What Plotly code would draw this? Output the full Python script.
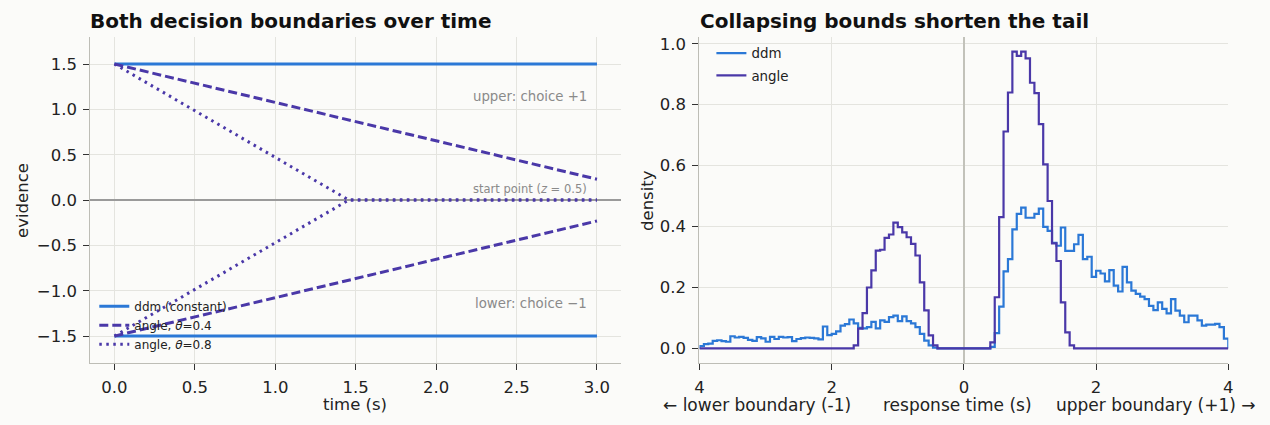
import numpy as np
import plotly.graph_objects as go

BLUE = "#2b78d6"
PURPLE = "#4a38a8"
GRID = "#e4e4df"
BG = "#fbfbf9"
FONT = "DejaVu Sans"

# left panel: boundary knots
t_const = [0.0, 3.0]
ddm_upper = [1.5, 1.5]
ddm_lower = [-1.5, -1.5]

t_04 = [0.0, 3.0]
angle04_upper = [1.5, 0.23]
angle04_lower = [-1.5, -0.23]

t_08 = [0.0, 1.457, 3.0]
angle08_upper = [1.5, 0.0, 0.0]
angle08_lower = [-1.5, 0.0, 0.0]

# right panel: signed response time histograms (-4..4, 120 bins)
bin_edges = np.linspace(-4, 4, 121)

ddm_neg = [0.008, 0.014, 0.016, 0.025, 0.027, 0.024, 0.022, 0.040, 0.036, 0.038,
           0.035, 0.028, 0.025, 0.037, 0.033, 0.022, 0.038, 0.031, 0.038, 0.036,
           0.037, 0.024, 0.031, 0.034, 0.036, 0.035, 0.033, 0.030, 0.072, 0.044,
           0.048, 0.056, 0.075, 0.080, 0.095, 0.082, 0.068, 0.066, 0.070, 0.087,
           0.066, 0.092, 0.087, 0.103, 0.108, 0.090, 0.105, 0.090, 0.082, 0.070,
           0.048, 0.026, 0.010, 0.003, 0.0, 0.0, 0.0, 0.0, 0.0, 0.0]
ddm_pos = [0.0, 0.0, 0.0, 0.0, 0.0, 0.0, 0.005, 0.050, 0.137, 0.253,
           0.293, 0.391, 0.442, 0.462, 0.429, 0.429, 0.442, 0.459, 0.399, 0.386,
           0.347, 0.337, 0.397, 0.320, 0.320, 0.342, 0.373, 0.293, 0.301, 0.235,
           0.255, 0.246, 0.220, 0.257, 0.206, 0.187, 0.268, 0.217, 0.190, 0.179,
           0.170, 0.162, 0.140, 0.126, 0.151, 0.130, 0.115, 0.162, 0.124, 0.108,
           0.086, 0.108, 0.108, 0.092, 0.075, 0.078, 0.078, 0.081, 0.070, 0.032]

angle_neg = [0.0] * 35 + [0.010, 0.065, 0.116, 0.200, 0.256, 0.321, 0.324, 0.363, 0.374, 0.413,
                          0.398, 0.381, 0.365, 0.343, 0.305, 0.217, 0.125, 0.043, 0.010] + [0.0] * 6
angle_pos = [0.0] * 6 + [0.020, 0.168, 0.431, 0.712, 0.840, 0.974, 0.960, 0.974, 0.952, 0.872,
                         0.838, 0.736, 0.604, 0.484, 0.345, 0.287, 0.151, 0.053, 0.010] + [0.0] * 35


def step_xy(values):
    xs = [bin_edges[0]] + list(bin_edges)
    ys = [0.0] + list(values) + [0.0]
    return xs, ys


fig = go.Figure()

# left panel
fig.add_trace(go.Scatter(x=t_const, y=ddm_upper, mode="lines", name="ddm (constant)",
                         line=dict(color=BLUE, width=3), legend="legend"))
fig.add_trace(go.Scatter(x=t_const, y=ddm_lower, mode="lines", showlegend=False,
                         line=dict(color=BLUE, width=3)))
fig.add_trace(go.Scatter(x=t_04, y=angle04_upper, mode="lines", name="angle, <i>θ</i>=0.4",
                         line=dict(color=PURPLE, width=3, dash="9px,4px"), legend="legend"))
fig.add_trace(go.Scatter(x=t_04, y=angle04_lower, mode="lines", showlegend=False,
                         line=dict(color=PURPLE, width=3, dash="9px,4px")))
fig.add_trace(go.Scatter(x=t_08, y=angle08_upper, mode="lines", name="angle, <i>θ</i>=0.8",
                         line=dict(color=PURPLE, width=3, dash="2.5px,4.5px"), legend="legend"))
fig.add_trace(go.Scatter(x=t_08, y=angle08_lower, mode="lines", showlegend=False,
                         line=dict(color=PURPLE, width=3, dash="2.5px,4.5px")))

# right panel
xs, ys = step_xy(ddm_neg + ddm_pos)
fig.add_trace(go.Scatter(x=xs, y=ys, mode="lines", line_shape="hv", name="ddm", legendgroup="a",
                         line=dict(color=BLUE, width=2.2), xaxis="x2", yaxis="y2", legend="legend2"))
xs, ys = step_xy(angle_neg + angle_pos)
fig.add_trace(go.Scatter(x=xs, y=ys, mode="lines", line_shape="hv", name="angle", legendgroup="b",
                         line=dict(color=PURPLE, width=2.2), xaxis="x2", yaxis="y2", legend="legend2"))

axis_common = dict(showgrid=True, gridcolor=GRID, gridwidth=1, zeroline=False,
                   showline=True, linecolor="#bdbdb6", linewidth=1.2,
                   ticks="outside", ticklen=6, tickcolor="#333", tickwidth=1,
                   ticklabelstandoff=3,
                   tickfont=dict(family=FONT, size=16.5, color="#222"))

label_font = dict(family=FONT, size=16.5, color="#222")

fig.update_layout(
    width=1270, height=425,
    margin=dict(l=0, r=0, t=0, b=0),
    paper_bgcolor=BG, plot_bgcolor=BG,
    font=dict(family=FONT, color="#222"),
    xaxis=dict(axis_common, domain=[86 / 1270, 621 / 1270], range=[-0.15, 3.15],
               tickvals=[0, 0.5, 1, 1.5, 2, 2.5, 3], tickformat=".1f", anchor="y"),
    yaxis=dict(axis_common, domain=[1 - 363 / 425, 1 - 35 / 425], range=[-1.8, 1.8],
               tickvals=[-1.5, -1, -0.5, 0, 0.5, 1, 1.5], tickformat=".1f", anchor="x",
               zeroline=True, zerolinecolor="#9a9a9a", zerolinewidth=1.6),
    xaxis2=dict(axis_common, domain=[700 / 1270, 1233 / 1270], range=[-4, 4],
                tickvals=[-4, -2, 0, 2, 4], ticktext=["4", "2", "0", "2", "4"], anchor="y2",
                zeroline=True, zerolinecolor="#c2c2ba", zerolinewidth=2),
    yaxis2=dict(axis_common, domain=[1 - 363 / 425, 1 - 35 / 425], range=[-0.0487, 1.0227],
                tickvals=[0, 0.2, 0.4, 0.6, 0.8, 1.0], tickformat=".1f", anchor="x2"),
    legend=dict(x=90 / 1270, y=1 - 291 / 425, xanchor="left", yanchor="top",
                bgcolor="rgba(0,0,0,0)", font=dict(family=FONT, size=12, color="#222")),
    legend2=dict(x=712 / 1270, y=1 - 36 / 425, xanchor="left", yanchor="top",
                 bgcolor="rgba(0,0,0,0)", tracegroupgap=2,
                 font=dict(family=FONT, size=13.4, color="#222")),
    annotations=[
        dict(text="<b>Both decision boundaries over time</b>", xref="paper", yref="paper",
             x=84 / 1270, y=1 - 19 / 425, xanchor="left", yanchor="middle", showarrow=False,
             font=dict(family=FONT, size=20, color="#111")),
        dict(text="<b>Collapsing bounds shorten the tail</b>", xref="paper", yref="paper",
             x=698 / 1270, y=1 - 19 / 425, xanchor="left", yanchor="middle", showarrow=False,
             font=dict(family=FONT, size=20, color="#111")),
        dict(text="evidence", xref="paper", yref="paper", x=17 / 1270, y=1 - 199 / 425,
             textangle=-90, xanchor="center", yanchor="middle", showarrow=False, font=label_font),
        dict(text="time (s)", xref="paper", yref="paper", x=353 / 1270, y=1 - 404 / 425,
             xanchor="center", yanchor="middle", showarrow=False, font=label_font),
        dict(text="density", xref="paper", yref="paper", x=647 / 1270, y=1 - 199 / 425,
             textangle=-90, xanchor="center", yanchor="middle", showarrow=False, font=label_font),
        dict(text="upper: choice +1", xref="x", yref="y", x=2.95, y=1.14,
             xanchor="right", yanchor="middle", showarrow=False,
             font=dict(family=FONT, size=13.3, color="#8a8a8a")),
        dict(text="lower: choice −1", xref="x", yref="y", x=2.95, y=-1.14,
             xanchor="right", yanchor="middle", showarrow=False,
             font=dict(family=FONT, size=13.3, color="#8a8a8a")),
        dict(text="start point (<i>z</i> = 0.5)", xref="x", yref="y", x=2.95, y=0.12,
             xanchor="right", yanchor="middle", showarrow=False,
             font=dict(family=FONT, size=11.5, color="#8a8a8a")),
        dict(text="← lower boundary (-1)", xref="paper", yref="paper",
             x=758 / 1270, y=1 - 405 / 425, xanchor="center", yanchor="middle", showarrow=False,
             font=dict(family=FONT, size=17, color="#222")),
        dict(text="response time (s)", xref="paper", yref="paper",
             x=960 / 1270, y=1 - 405 / 425, xanchor="center", yanchor="middle", showarrow=False,
             font=dict(family=FONT, size=17, color="#222")),
        dict(text="upper boundary (+1) →", xref="paper", yref="paper",
             x=1160 / 1270, y=1 - 405 / 425, xanchor="center", yanchor="middle", showarrow=False,
             font=dict(family=FONT, size=17, color="#222")),
    ],
)

fig.write_html("out.html", config={"displayModeBar": False},
               post_script="document.body.style.margin='0px';")
